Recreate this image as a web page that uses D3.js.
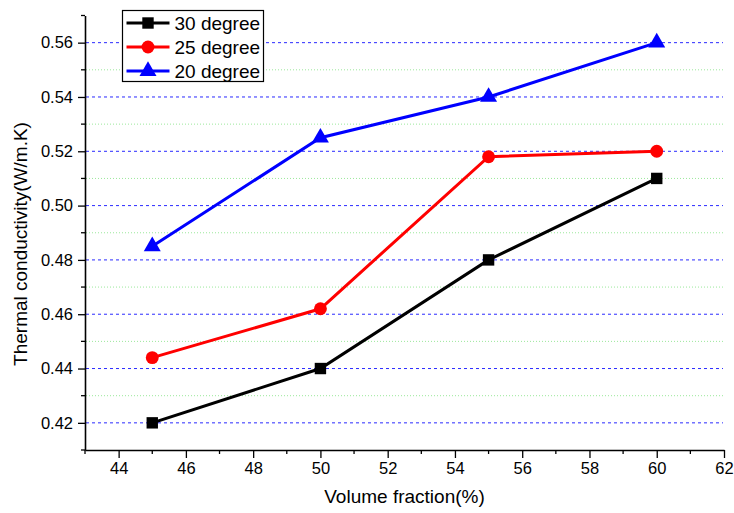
<!DOCTYPE html>
<html>
<head>
<meta charset="utf-8">
<script src="https://cdn.jsdelivr.net/npm/d3@7"></script>
<style>
  body { margin: 0; background: #fff; }
  svg { font-family: Arial, "Liberation Sans", sans-serif; }
</style>
</head>
<body>
<div id="chart"></div>
<script>
const volumeFraction = [45, 50, 55, 60];
const seriesNames = ["30 degree", "25 degree", "20 degree"];
const deg30 = [0.42, 0.44, 0.48, 0.51];
const deg25 = [0.444, 0.462, 0.518, 0.52];
const deg20 = [0.485, 0.525, 0.54, 0.56];
const xMajorTicks = [44, 46, 48, 50, 52, 54, 56, 58, 60, 62];
const xMinorTicks = [43, 45, 47, 49, 51, 53, 55, 57, 59, 61];
const yMajorTicks = [0.42, 0.44, 0.46, 0.48, 0.50, 0.52, 0.54, 0.56];
const yMinorTicks = [0.41, 0.43, 0.45, 0.47, 0.49, 0.51, 0.53, 0.55, 0.57];

const W = 734, H = 513;
const margin = {top: 15.5, right: 10, bottom: 63, left: 85};
const width = W - margin.left - margin.right;
const height = H - margin.top - margin.bottom;

const svg = d3.select("#chart").append("svg")
    .attr("width", W)
    .attr("height", H);

const g = svg.append("g")
    .attr("transform", `translate(${margin.left},${margin.top})`);

const x = d3.scaleLinear().domain([43, 62]).range([0, width]);
const y = d3.scaleLinear().domain([0.41, 0.57]).range([height, 0]);

// grid lines
g.selectAll(".grid-minor")
    .data(yMinorTicks.filter(d => d > 0.41 && d < 0.57))
    .enter().append("line")
    .attr("x1", 1).attr("x2", width - 1)
    .attr("y1", d => y(d)).attr("y2", d => y(d))
    .style("stroke", "#9be89b")
    .style("stroke-width", 1)
    .style("stroke-dasharray", "1,2");

g.selectAll(".grid-major")
    .data(yMajorTicks)
    .enter().append("line")
    .attr("x1", 1).attr("x2", width - 1)
    .attr("y1", d => y(d)).attr("y2", d => y(d))
    .style("stroke", "#2a2aff")
    .style("stroke-width", 1)
    .style("stroke-dasharray", "3,3");

// axes
const xAxis = g.append("g")
    .attr("transform", `translate(0,${height})`)
    .call(d3.axisBottom(x).tickValues(xMajorTicks).tickSize(8).tickSizeOuter(0).tickPadding(4).tickFormat(d3.format("d")));
xAxis.append("g").selectAll("line")
    .data(xMinorTicks)
    .enter().append("line")
    .attr("x1", d => x(d)).attr("x2", d => x(d))
    .attr("y1", 0).attr("y2", 4)
    .attr("stroke", "#000");

const yAxis = g.append("g")
    .call(d3.axisLeft(y).tickValues(yMajorTicks).tickSize(7).tickSizeOuter(0).tickPadding(5).tickFormat(d3.format(".2f")));
yAxis.append("g").selectAll("line")
    .data(yMinorTicks)
    .enter().append("line")
    .attr("x1", 0).attr("x2", -4)
    .attr("y1", d => y(d)).attr("y2", d => y(d))
    .attr("stroke", "#000");

[xAxis, yAxis].forEach(a => {
    a.select(".domain").attr("stroke-width", 1.6);
    a.selectAll("line").attr("stroke-width", 1.3);
    a.selectAll("text").style("font-size", "16.5px").attr("fill", "#000");
});

// axis titles
svg.append("text")
    .attr("x", margin.left + width / 2)
    .attr("y", 503)
    .attr("text-anchor", "middle")
    .style("font-size", "19px")
    .text("Volume fraction(%)");

svg.append("text")
    .attr("transform", `translate(27,244) rotate(-90)`)
    .attr("text-anchor", "middle")
    .style("font-size", "19px")
    .text("Thermal conductivity(W/m.K)");

// series
const series = [
    {name: seriesNames[0], values: deg30, color: "#000000", shape: d3.symbolSquare, size: 130},
    {name: seriesNames[1], values: deg25, color: "#ff0000", shape: d3.symbolCircle, size: 130},
    {name: seriesNames[2], values: deg20, color: "#0000ff", shape: d3.symbolTriangle, size: 125}
];

const line = d3.line()
    .x(d => x(d.x))
    .y(d => y(d.y));

series.forEach(s => {
    const pts = volumeFraction.map((v, i) => ({x: v, y: s.values[i]}));
    g.append("path")
        .datum(pts)
        .attr("d", line)
        .style("fill", "none")
        .style("stroke", s.color)
        .style("stroke-width", 3);
    g.selectAll(null)
        .data(pts)
        .enter().append("path")
        .attr("d", d3.symbol().type(s.shape).size(s.size))
        .attr("transform", d => `translate(${x(d.x)},${y(d.y)})`)
        .style("fill", s.color);
});

// legend
const legend = svg.append("g").attr("transform", "translate(122.5,10.5)");
legend.append("rect")
    .attr("width", 141)
    .attr("height", 71)
    .style("fill", "#fff")
    .style("stroke", "#000")
    .style("stroke-width", 1.2);

series.forEach((s, i) => {
    const ly = 12.5 + i * 24;
    legend.append("line")
        .attr("x1", 4).attr("x2", 47)
        .attr("y1", ly).attr("y2", ly)
        .style("stroke", s.color)
        .style("stroke-width", 3);
    legend.append("path")
        .attr("d", d3.symbol().type(s.shape).size(s.size))
        .attr("transform", `translate(25.5,${ly})`)
        .style("fill", s.color);
    legend.append("text")
        .attr("x", 52)
        .attr("y", ly + 6.5)
        .style("font-size", "19px")
        .text(s.name);
});
</script>
</body>
</html>
